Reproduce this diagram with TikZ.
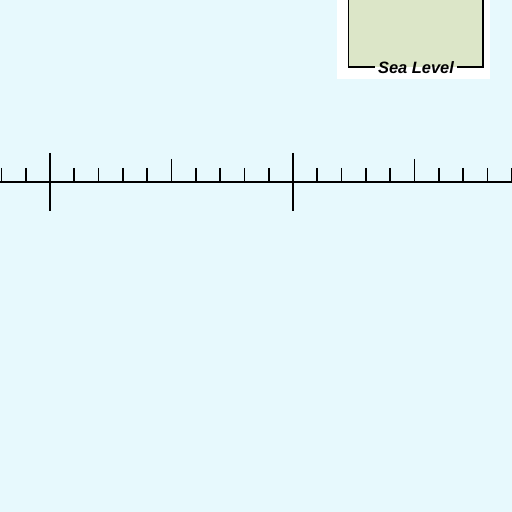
\documentclass[tikz,border=0pt]{standalone}
\usepackage{fontspec}
\setmainfont{Liberation Sans}
\definecolor{bgc}{HTML}{E7F9FD}
\definecolor{landc}{HTML}{DCE6C8}
\tikzset{
  axisline/.style={line width=1.5bp, black},
  minortick/.style={line width=1.7bp, black},
  majortick/.style={line width=2.4bp, black},
  boxedge/.style={line width=1.8bp, black},
  lbl/.style={font=\bfseries\itshape\fontsize{16.5}{16.5}\selectfont, text=black, inner xsep=3bp, inner ysep=1bp}
}
\begin{document}
\begin{tikzpicture}[x=1bp,y=-1bp]
\fill[bgc] (0,0) rectangle (512,512);
\useasboundingbox (0,0) rectangle (512,512);
% inset with sea level
\fill[white] (337,0) rectangle (490,79);
\fill[landc] (348.5,0) rectangle (483,67);
\node[lbl] (sl) at (416,68) {Sea Level};
\coordinate (tl) at (348.5,0);
\coordinate (bl) at (348.5,67);
\coordinate (tr) at (483,0);
\coordinate (br) at (483,67);
\draw[boxedge] (tl) -- (bl) -- (sl.west |- bl);
\draw[boxedge] (tr) -- (br) -- (sl.east |- br);
% scale axis
\coordinate (al) at (0,182);
\coordinate (ar) at (512,182);
\draw[axisline] (al) -- (ar);
\foreach \k in {-2,...,19}{
  \pgfmathsetmacro{\xx}{50+24.3*\k}
  \ifnum\k=0
    \draw[majortick] (\xx,153) -- (\xx,211);
  \else\ifnum\k=10
    \draw[majortick] (\xx,153) -- (\xx,211);
  \else\ifnum\k=5
    \draw[minortick] (\xx,159) -- (\xx,182);
  \else\ifnum\k=15
    \draw[minortick] (\xx,159) -- (\xx,182);
  \else
    \draw[minortick] (\xx,168) -- (\xx,182);
  \fi\fi\fi\fi
}
\end{tikzpicture}
\end{document}
